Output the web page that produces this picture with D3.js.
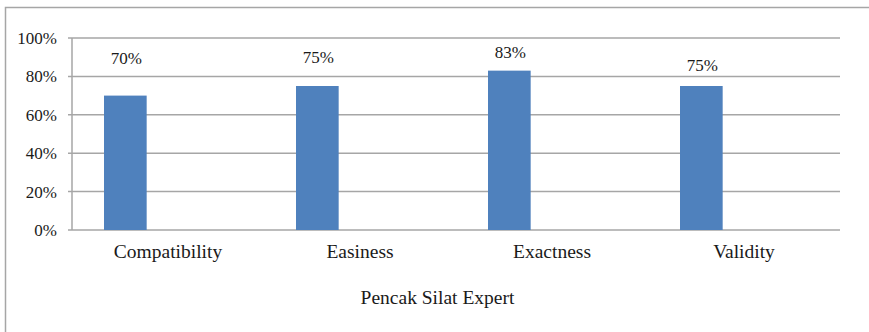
<!DOCTYPE html>
<html>
<head>
<meta charset="utf-8">
<script src="https://cdn.jsdelivr.net/npm/d3@7/dist/d3.min.js"></script>
<style>
  html, body { margin: 0; padding: 0; background: #fff; }
  svg { display: block; }
</style>
</head>
<body>
<svg id="chart" width="869" height="332"></svg>
<script>
// ---- data ----
const categories = ["Compatibility", "Easiness", "Exactness", "Validity"];
const values = [0.70, 0.75, 0.83, 0.75];
const valueLabels = ["70%", "75%", "83%", "75%"];
const yTicks = [0, 0.2, 0.4, 0.6, 0.8, 1.0];
const yTickLabels = ["0%", "20%", "40%", "60%", "80%", "100%"];
const axisTitle = "Pencak Silat Expert";
// label placement level (value units) as in the original layout
const labelLevel = [0.865, 0.87, 0.896, 0.828];

const FONT = "'Liberation Serif', 'Times New Roman', Times, serif";

// ---- layout ----
const svg = d3.select("#chart");
const plot = { left: 72, right: 840, top: 38, bottom: 230 };

svg.append("rect")
  .attr("x", 5.5).attr("y", 7.5).attr("width", 900).attr("height", 400)
  .attr("fill", "none").attr("stroke", "#a6a6a6").attr("stroke-width", 1.5);

const x = d3.scaleBand().domain(categories).range([plot.left, plot.right]).padding(0);
// clustered layout: 3 series slots, gap width 150%
const slot = d3.scaleBand().domain([0, 1, 2]).range([0, x.bandwidth()])
  .paddingInner(0).paddingOuter(0.75);
const y = d3.scaleLinear().domain([0, 1]).range([plot.bottom, plot.top]);

// gridlines
const g = svg.append("g");
g.selectAll("line.grid").data(yTicks).enter().append("line")
  .attr("x1", plot.left - 4).attr("x2", plot.right)
  .attr("y1", d => y(d)).attr("y2", d => y(d))
  .attr("stroke", "#a6a6a6").attr("stroke-width", 1.5);

// y axis line
g.append("line")
  .attr("x1", plot.left).attr("x2", plot.left)
  .attr("y1", y(0)).attr("y2", y(1))
  .attr("stroke", "#a6a6a6").attr("stroke-width", 1.5);

function txt(sel, size) {
  return sel.attr("font-family", FONT).attr("font-size", size).attr("fill", "#1a1a1a");
}

// y tick labels
txt(g.selectAll("text.ytick").data(yTicks).enter().append("text"), 17)
  .attr("x", plot.left - 15)
  .attr("y", d => y(d) + 6)
  .attr("text-anchor", "end")
  .text((d, i) => yTickLabels[i]);

// bars
svg.selectAll("rect.bar").data(values).enter().append("rect")
  .attr("x", (d, i) => x(categories[i]) + slot(0))
  .attr("width", slot.bandwidth())
  .attr("y", d => y(d))
  .attr("height", d => y(0) - y(d))
  .attr("fill", "#4F81BD");

// value labels
txt(svg.selectAll("text.val").data(values).enter().append("text"), 17)
  .attr("x", (d, i) => x(categories[i]) + slot(0) + slot.bandwidth() / 2 + 1)
  .attr("y", (d, i) => y(labelLevel[i]))
  .attr("text-anchor", "middle")
  .text((d, i) => valueLabels[i]);

// category labels
txt(svg.selectAll("text.cat").data(categories).enter().append("text"), 19.5)
  .attr("x", d => x(d) + x.bandwidth() / 2)
  .attr("y", 258)
  .attr("text-anchor", "middle")
  .text(d => d);

// axis title
txt(svg.append("text"), 19.5)
  .attr("x", 437.5).attr("y", 304)
  .attr("text-anchor", "middle")
  .text(axisTitle);
</script>
</body>
</html>
